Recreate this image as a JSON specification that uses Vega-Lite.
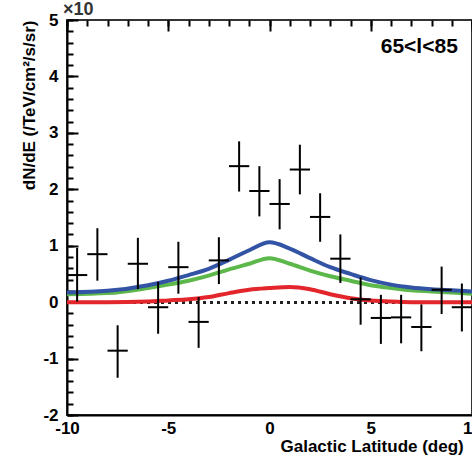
{
  "$schema": "https://vega.github.io/schema/vega-lite/v6.json",
  "width": 405,
  "height": 395,
  "autosize": {"type": "none"},
  "padding": {"left": 67, "top": 20, "right": 0, "bottom": 40},
  "background": "white",
  "config": {"view": {"stroke": "#333333", "strokeWidth": 2}, "font": "Liberation Sans"},
  "resolve": {"axis": {"x": "independent", "y": "independent"}},
  "datasets": {
    "points": [
      {"lat": -9.5, "lo": -10, "hi": -9, "v": 0.48, "vlo": 0.01, "vhi": 0.96},
      {"lat": -8.5, "lo": -9, "hi": -8, "v": 0.85, "vlo": 0.38, "vhi": 1.31},
      {"lat": -7.5, "lo": -8, "hi": -7, "v": -0.86, "vlo": -1.34, "vhi": -0.41},
      {"lat": -6.5, "lo": -7, "hi": -6, "v": 0.68, "vlo": 0.23, "vhi": 1.14},
      {"lat": -5.5, "lo": -6, "hi": -5, "v": -0.09, "vlo": -0.56, "vhi": 0.36},
      {"lat": -4.5, "lo": -5, "hi": -4, "v": 0.62, "vlo": 0.15, "vhi": 1.07},
      {"lat": -3.5, "lo": -4, "hi": -3, "v": -0.35, "vlo": -0.81, "vhi": 0.09},
      {"lat": -2.5, "lo": -3, "hi": -2, "v": 0.74, "vlo": 0.32, "vhi": 1.15},
      {"lat": -1.5, "lo": -2, "hi": -1, "v": 2.41, "vlo": 1.96, "vhi": 2.85},
      {"lat": -0.5, "lo": -1, "hi": 0, "v": 1.97, "vlo": 1.52, "vhi": 2.41},
      {"lat": 0.5, "lo": 0, "hi": 1, "v": 1.74, "vlo": 1.29, "vhi": 2.18},
      {"lat": 1.5, "lo": 1, "hi": 2, "v": 2.35, "vlo": 1.91, "vhi": 2.79},
      {"lat": 2.5, "lo": 2, "hi": 3, "v": 1.51, "vlo": 1.07, "vhi": 1.93},
      {"lat": 3.5, "lo": 3, "hi": 4, "v": 0.77, "vlo": 0.34, "vhi": 1.2},
      {"lat": 4.5, "lo": 4, "hi": 5, "v": 0.05, "vlo": -0.4, "vhi": 0.44},
      {"lat": 5.5, "lo": 5, "hi": 6, "v": -0.28, "vlo": -0.74, "vhi": 0.13},
      {"lat": 6.5, "lo": 6, "hi": 7, "v": -0.27, "vlo": -0.73, "vhi": 0.13},
      {"lat": 7.5, "lo": 7, "hi": 8, "v": -0.44, "vlo": -0.87, "vhi": -0.04},
      {"lat": 8.5, "lo": 8, "hi": 9, "v": 0.22, "vlo": -0.21, "vhi": 0.63},
      {"lat": 9.5, "lo": 9, "hi": 10, "v": -0.09, "vlo": -0.52, "vhi": 0.33}
    ],
    "curves": [
      {"lat": -10, "s": "green", "v": 0.14}, {"lat": -8, "s": "green", "v": 0.16}, {"lat": -6, "s": "green", "v": 0.25}, {"lat": -5, "s": "green", "v": 0.31}, {"lat": -4, "s": "green", "v": 0.38}, {"lat": -3, "s": "green", "v": 0.47}, {"lat": -2, "s": "green", "v": 0.58}, {"lat": -1, "s": "green", "v": 0.68}, {"lat": 0, "s": "green", "v": 0.78}, {"lat": 1, "s": "green", "v": 0.68}, {"lat": 2, "s": "green", "v": 0.56}, {"lat": 3, "s": "green", "v": 0.46}, {"lat": 4, "s": "green", "v": 0.38}, {"lat": 5, "s": "green", "v": 0.3}, {"lat": 6, "s": "green", "v": 0.25}, {"lat": 7, "s": "green", "v": 0.21}, {"lat": 8, "s": "green", "v": 0.19}, {"lat": 9, "s": "green", "v": 0.17}, {"lat": 10, "s": "green", "v": 0.15},
      {"lat": -10, "s": "blue", "v": 0.17}, {"lat": -8, "s": "blue", "v": 0.2}, {"lat": -6, "s": "blue", "v": 0.3}, {"lat": -5, "s": "blue", "v": 0.38}, {"lat": -4, "s": "blue", "v": 0.48}, {"lat": -3, "s": "blue", "v": 0.59}, {"lat": -2, "s": "blue", "v": 0.75}, {"lat": -1, "s": "blue", "v": 0.92}, {"lat": 0, "s": "blue", "v": 1.06}, {"lat": 1, "s": "blue", "v": 0.95}, {"lat": 2, "s": "blue", "v": 0.78}, {"lat": 3, "s": "blue", "v": 0.62}, {"lat": 4, "s": "blue", "v": 0.5}, {"lat": 5, "s": "blue", "v": 0.39}, {"lat": 6, "s": "blue", "v": 0.31}, {"lat": 7, "s": "blue", "v": 0.26}, {"lat": 8, "s": "blue", "v": 0.23}, {"lat": 9, "s": "blue", "v": 0.21}, {"lat": 10, "s": "blue", "v": 0.19},
      {"lat": -10, "s": "red", "v": 0.0}, {"lat": -8, "s": "red", "v": 0.0}, {"lat": -6, "s": "red", "v": 0.01}, {"lat": -5, "s": "red", "v": 0.03}, {"lat": -4, "s": "red", "v": 0.05}, {"lat": -3, "s": "red", "v": 0.09}, {"lat": -2, "s": "red", "v": 0.16}, {"lat": -1, "s": "red", "v": 0.22}, {"lat": 0, "s": "red", "v": 0.25}, {"lat": 1, "s": "red", "v": 0.27}, {"lat": 2, "s": "red", "v": 0.23}, {"lat": 3, "s": "red", "v": 0.14}, {"lat": 4, "s": "red", "v": 0.07}, {"lat": 5, "s": "red", "v": 0.03}, {"lat": 6, "s": "red", "v": 0.01}, {"lat": 7, "s": "red", "v": 0.0}, {"lat": 8, "s": "red", "v": 0.0}, {"lat": 9, "s": "red", "v": 0.0}, {"lat": 10, "s": "red", "v": 0.0}
    ],
    "notes": [
      {"t": "65<l<85"}
    ]
  },
  "layer": [
    {
      "data": {"name": "points"},
      "mark": {"type": "rule", "strokeDash": [3, 4], "strokeWidth": 2, "color": "#222222"},
      "encoding": {
        "y": {"datum": 0, "type": "quantitative", "scale": {"domain": [-2, 5], "nice": false, "zero": false}, "axis": null}
      }
    },
    {
      "data": {"name": "curves"},
      "mark": {"type": "line", "strokeWidth": 4, "interpolate": "monotone"},
      "encoding": {
        "x": {"field": "lat", "type": "quantitative", "scale": {"domain": [-10, 10], "nice": false, "zero": false},
          "axis": {
            "orient": "bottom",
            "title": null, "labels": false, "domain": false, "ticks": false,
            "values": [-10, -9, -8, -7, -6, -5, -4, -3, -2, -1, 0, 1, 2, 3, 4, 5, 6, 7, 8, 9, 10],
            "grid": true, "gridDash": [6, 2000], "gridColor": "#000000", "gridWidth": 2, "gridOpacity": 1
          }
        },
        "y": {"field": "v", "type": "quantitative",
          "axis": {
            "orient": "left",
            "title": null, "labels": false, "domain": false, "ticks": false,
            "values": [-2, -1.8, -1.6, -1.4, -1.2, -1, -0.8, -0.6, -0.4, -0.2, 0, 0.2, 0.4, 0.6, 0.8, 1, 1.2, 1.4, 1.6, 1.8, 2, 2.2, 2.4, 2.6, 2.8, 3, 3.2, 3.4, 3.6, 3.8, 4, 4.2, 4.4, 4.6, 4.8, 5],
            "grid": true, "gridDash": [6, 2000], "gridColor": "#000000", "gridWidth": 2, "gridOpacity": 1
          }
        },
        "color": {"field": "s", "type": "nominal", "scale": {"domain": ["green", "blue", "red"], "range": ["#5cb84a", "#3354a4", "#e2262b"]}, "legend": null}
      }
    },
    {
      "data": {"name": "points"},
      "mark": {"type": "rule", "strokeWidth": 2, "color": "black"},
      "encoding": {
        "x": {"field": "lat", "type": "quantitative",
          "axis": {
            "orient": "bottom",
            "title": "Galactic Latitude (deg)",
            "values": [-10, -5, 0, 5, 10],
            "labelExpr": "'' + datum.value",
            "ticks": false, "domainColor": "black", "domainWidth": 2,
            "grid": true, "gridDash": [11, 2000], "gridColor": "#000000", "gridWidth": 2, "gridOpacity": 1,
            "labelFont": "Liberation Sans", "labelFontWeight": "bold", "labelFontSize": 17, "labelColor": "black",
            "labelPadding": 5, "labelFlush": false, "labelOverlap": false,
            "titleFont": "Liberation Sans", "titleFontWeight": "bold", "titleFontSize": 17, "titleColor": "black",
            "titleAnchor": "start", "titleAlign": "left", "titleX": 213, "titlePadding": 2
          }
        },
        "y": {"field": "vlo", "type": "quantitative",
          "axis": {
            "orient": "left",
            "title": "dN/dE (/TeV/cm²/s/sr)",
            "values": [-2, -1, 0, 1, 2, 3, 4, 5],
            "labelExpr": "'' + datum.value",
            "ticks": false, "domainColor": "black", "domainWidth": 2,
            "grid": true, "gridDash": [11, 2000], "gridColor": "#000000", "gridWidth": 2, "gridOpacity": 1,
            "labelFont": "Liberation Sans", "labelFontWeight": "bold", "labelFontSize": 17, "labelColor": "black",
            "labelPadding": 9, "labelFlush": false, "labelOverlap": false,
            "titleFont": "Liberation Sans", "titleFontWeight": "bold", "titleFontSize": 17, "titleColor": "black",
            "titleAnchor": "end", "titlePadding": 4
          }
        },
        "y2": {"field": "vhi"}
      }
    },
    {
      "data": {"name": "points"},
      "mark": {"type": "rule", "strokeWidth": 2, "color": "black"},
      "encoding": {
        "x": {"field": "lo", "type": "quantitative", "axis": null},
        "x2": {"field": "hi"},
        "y": {"field": "v", "type": "quantitative", "axis": null}
      }
    },
    {
      "data": {"name": "notes"},
      "mark": {"type": "text", "align": "right", "baseline": "middle", "font": "Liberation Sans", "fontWeight": "bold", "fontSize": 21, "color": "black"},
      "encoding": {
        "text": {"field": "t"},
        "x": {"datum": 9.3, "type": "quantitative", "axis": null},
        "y": {"datum": 4.52, "type": "quantitative", "axis": null}
      }
    },
    {
      "data": {"name": "notes"},
      "mark": {"type": "text", "align": "left", "baseline": "alphabetic", "dx": -4, "dy": -5, "font": "Liberation Sans", "fontWeight": "bold", "fontSize": 18, "color": "#333333", "text": "×10"},
      "encoding": {
        "x": {"datum": -10, "type": "quantitative", "axis": null},
        "y": {"datum": 5, "type": "quantitative", "axis": null}
      }
    }
  ]
}
